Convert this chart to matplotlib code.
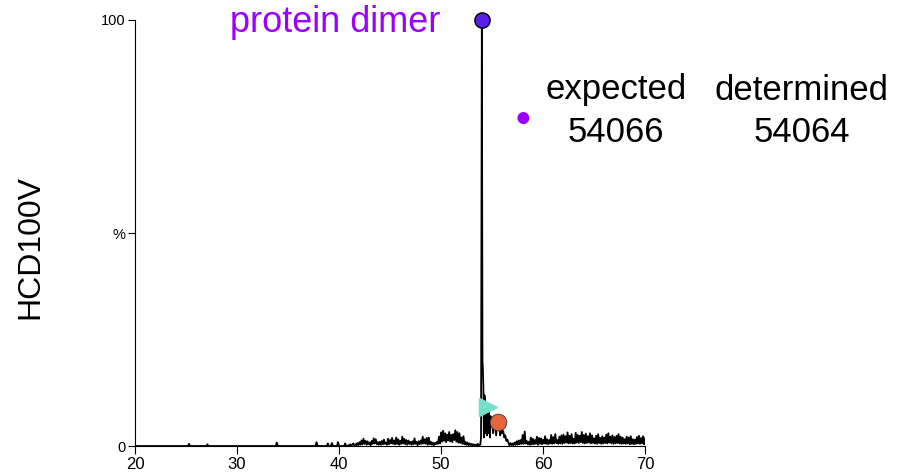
import matplotlib.pyplot as plt
import numpy as np

plt.rcParams["font.family"] = ["Liberation Sans", "DejaVu Sans"]

# --- spectrum data (deconvoluted mass, kDa vs relative intensity %) ---
# quiet baseline with a few small spikes
base_mz = [20.0, 25.2, 25.3, 25.4, 27.0, 27.1, 27.2, 33.8, 33.9, 34.0,
           37.7, 37.8, 37.9, 38.8, 38.9, 39.0, 39.2, 39.3, 39.4, 39.8,
           39.9, 40.0, 40.5, 40.6, 40.7, 40.9]
base_int = [0, 0, 0.5, 0, 0, 0.4, 0, 0, 0.8, 0,
            0, 0.9, 0, 0, 0.6, 0, 0, 0.7, 0, 0,
            0.9, 0, 0, 0.6, 0, 0.1]

# noise before the main peak, 41.0 - 53.8 in 0.1 steps
pre_start = 41.0
pre_int = [
    0.2, 0.4, 0.1, 0.3, 0.6, 0.1, 0.4, 0.2, 0.7, 0.2,
    0.9, 0.3, 1.3, 0.4, 1.7, 0.5, 1.2, 0.3, 1.1, 0.4,
    0.8, 0.2, 1.2, 0.5, 1.8, 0.6, 1.6, 0.4, 0.9, 0.3,
    1.0, 0.3, 1.2, 0.4, 1.5, 0.5, 0.8, 0.3, 1.7, 0.4,
    1.4, 0.6, 1.9, 0.5, 1.3, 0.4, 2.0, 0.5, 1.6, 0.3,
    1.2, 0.5, 2.2, 0.6, 1.7, 0.4, 1.4, 0.3, 1.3, 0.5,
    1.0, 0.3, 1.1, 0.4, 1.8, 0.5, 1.0, 0.2, 1.1, 0.4,
    1.3, 0.5, 2.2, 0.6, 1.6, 0.5, 1.9, 0.3, 2.0, 0.4,
    1.0, 0.3, 0.8, 0.2, 0.7, 0.4, 1.0, 0.5, 2.2, 0.6,
    3.2, 1.0, 3.6, 1.2, 3.0, 0.9, 2.7, 1.3, 3.3, 1.1,
    2.6, 0.9, 2.8, 1.4, 3.7, 1.0, 3.3, 0.8, 3.0, 0.7,
    2.0, 0.5, 2.3, 0.4, 1.0, 0.3, 0.8, 0.2, 0.6, 0.2,
    0.5, 0.1, 0.4, 0.2, 0.3, 0.1, 0.5, 0.1, 0.3,
]

# main dimer peak and its tailing shoulder
peak_mz = [53.85, 53.92, 53.97, 54.0, 54.03, 54.06, 54.1, 54.15, 54.2, 54.25,
           54.3, 54.35, 54.4, 54.45, 54.5, 54.55, 54.6, 54.65, 54.7, 54.75,
           54.8, 54.85, 54.9, 55.0, 55.1, 55.2, 55.3, 55.4, 55.5, 55.6,
           55.7, 55.8, 55.9, 56.0, 56.1, 56.2, 56.3, 56.4, 56.5]
peak_int = [0.3, 2, 60, 100, 60, 20, 18, 14, 2, 12,
            11, 3, 10, 9, 2.5, 8, 7, 3, 8, 6,
            2, 7, 5, 6.5, 3, 6, 5, 2.5, 5.5, 4,
            5, 2.5, 4, 3, 3.5, 2, 2.5, 1.2, 1.5]

# noise after the peak, 56.6 - 70.0 in 0.1 steps
post_start = 56.6
post_int = [
    0.8, 0.2, 0.7, 0.2,
    0.6, 0.2, 0.8, 0.3, 1.1, 0.3, 1.3, 0.4, 1.4, 0.5,
    2.6, 0.5, 3.4, 0.6, 1.2, 0.4, 1.0, 0.3, 2.0, 0.4,
    1.7, 0.4, 1.4, 0.5, 2.2, 0.3, 1.9, 0.5, 1.8, 0.4,
    1.5, 0.6, 2.3, 0.5, 1.6, 0.4, 1.4, 0.6, 2.6, 0.5,
    2.1, 0.6, 2.8, 0.7, 1.4, 0.5, 2.2, 0.6, 2.5, 0.5,
    2.7, 0.7, 2.3, 0.8, 3.2, 0.6, 2.4, 0.7, 2.8, 0.6,
    1.7, 0.6, 3.1, 0.8, 2.6, 0.7, 2.4, 0.9, 3.3, 0.7,
    2.6, 0.6, 2.9, 0.7, 2.3, 0.8, 3.0, 0.6, 2.5, 0.7,
    1.8, 0.6, 2.4, 0.5, 2.8, 0.7, 1.9, 0.5, 2.3, 0.6,
    2.0, 0.7, 2.7, 0.6, 3.0, 0.8, 2.2, 0.6, 2.5, 0.5,
    2.1, 0.6, 2.4, 0.7, 2.8, 0.6, 2.2, 0.5, 2.0, 0.6,
    1.6, 0.5, 2.2, 0.6, 2.0, 0.4, 2.3, 0.5, 1.6, 0.4,
    1.5, 0.5, 2.1, 0.6, 2.4, 0.5, 1.9, 0.6, 2.3, 0.4,
    1.8,
]

# annotated species: (mass, intensity)
dimer_pt = (54.0, 100)
minor1_pt = (54.6, 9.2)
minor2_pt = (55.6, 5.6)

expected_mass = "54066"
determined_mass = "54064"

pre_mz = pre_start + 0.1 * np.arange(len(pre_int))
post_mz = post_start + 0.1 * np.arange(len(post_int))
mz = np.concatenate([base_mz, pre_mz, peak_mz, post_mz])
inten = np.concatenate([base_int, pre_int, peak_int, post_int])

fig = plt.figure(figsize=(9.06, 4.76), dpi=100)
ax = fig.add_axes([0.149, 0.063, 0.563, 0.895])

ax.plot(mz, inten, color="black", linewidth=1.3)

ax.plot(*dimer_pt, "o", color="#5b1ee8", markeredgecolor="black",
        markersize=11, markeredgewidth=1.0, clip_on=False, zorder=5)
ax.plot(*minor1_pt, ">", color="#74e0c9", markeredgecolor="#74e0c9",
        markersize=13, clip_on=False, zorder=5)
ax.plot(*minor2_pt, "o", color="#e8643a", markeredgecolor="#333333",
        markersize=12, markeredgewidth=0.6, clip_on=False, zorder=5)

ax.set_xlim(20, 70)
ax.set_ylim(0, 100)
ax.set_xticks([20, 30, 40, 50, 60, 70])
ax.set_yticks([0, 50, 100])
ax.set_yticklabels(["0", "%", "100"])
ax.tick_params(axis="x", labelsize=12, length=6, width=0.8, pad=2)
ax.tick_params(axis="y", labelsize=10.5, length=5, width=0.8, pad=2)
for side in ["top", "right"]:
    ax.spines[side].set_visible(False)
ax.spines["left"].set_linewidth(0.8)
ax.spines["bottom"].set_linewidth(0.8)

fig.text(30 / 906, 1 - 247 / 476, "HCD100V", rotation=90, fontsize=23,
         ha="center", va="center")

fig.text(335 / 906, 1 - 22 / 476, "protein dimer", color="#9b00ff",
         fontsize=26, ha="center", va="center")

fig.text(523 / 906, 1 - 119 / 476, "\u25cf", color="#9b00ff",
         fontsize=20, ha="center", va="center")
fig.text(616 / 906, 1 - 90 / 476, "expected", fontsize=25,
         ha="center", va="center")
fig.text(616 / 906, 1 - 132 / 476, expected_mass, fontsize=25,
         ha="center", va="center")
fig.text(802 / 906, 1 - 90 / 476, "determined", fontsize=25,
         ha="center", va="center")
fig.text(802 / 906, 1 - 132 / 476, determined_mass, fontsize=25,
         ha="center", va="center")

fig.savefig("out.png", dpi=100)
